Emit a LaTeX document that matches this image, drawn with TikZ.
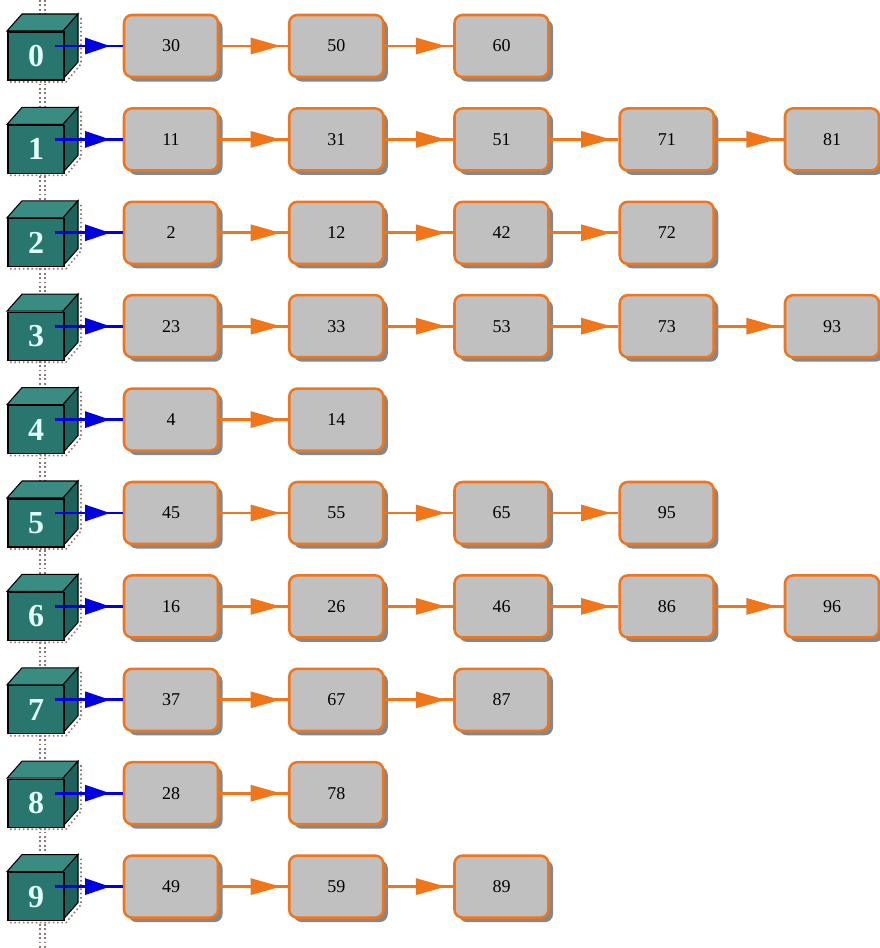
\documentclass[tikz,border=0pt]{standalone}
\usepackage{fontspec}
\setmainfont{Liberation Serif}
\usetikzlibrary{arrows.meta,decorations.markings,shadows}

\definecolor{tealfront}{RGB}{40,118,110}
\definecolor{tealtop}{RGB}{58,140,130}
\definecolor{tealside}{RGB}{30,98,92}
\definecolor{digitcyan}{RGB}{225,255,250}
\definecolor{linkorange}{RGB}{240,118,28}
\definecolor{cellgray}{RGB}{192,192,192}
\definecolor{cellshadow}{RGB}{135,135,135}
\definecolor{ptrblue}{RGB}{0,0,225}
\definecolor{spine}{RGB}{140,120,120}
\definecolor{cubeshade}{RGB}{175,110,110}

\begin{document}
\begin{tikzpicture}[x=0.75pt,y=-0.75pt,
  cell/.style={draw=linkorange, line width=1.9pt, fill=cellgray,
    rounded corners=6pt, minimum width=94*0.75pt, minimum height=62*0.75pt,
    inner sep=0pt, font=\fontsize{13.5}{15}\selectfont,
    drop shadow={shadow xshift=3.4pt, shadow yshift=-3.4pt, fill=cellshadow, opacity=1}},
  front/.style={draw=black, line width=0.8pt, fill=tealfront,
    minimum width=56*0.75pt, minimum height=48*0.75pt, inner sep=0pt,
    text=digitcyan, font=\fontsize{24}{24}\selectfont\bfseries},
  topface/.style={draw=black, line width=0.8pt, fill=tealtop},
  sideface/.style={draw=black, line width=0.8pt, fill=tealside},
  cubeshadow/.style={cubeshade, dotted, line width=1.2pt},
  link/.style={linkorange, line width=2.2pt, postaction={decorate},
    decoration={markings, mark=at position -5.5pt with
      {\arrow{Triangle[length=30*0.75pt, width=16*0.75pt]}}}},
  ptr/.style={ptrblue, line width=2.2pt, postaction={decorate},
    decoration={markings, mark=at position -9.5pt with
      {\arrow{Triangle[length=25*0.75pt, width=16*0.75pt]}}}},
  spineline/.style={spine, dotted, line width=1.3pt}
]
\fill[white] (0,0) rectangle (879,948);
\useasboundingbox (0,0) rectangle (879,948);

% dotted spine of the bucket array
\draw[spineline] (40,0) -- (40,948);
\draw[spineline] (45,0) -- (45,948);

\foreach \r/\list in {0/{30,50,60},1/{11,31,51,71,81},2/{2,12,42,72},
    3/{23,33,53,73,93},4/{4,14},5/{45,55,65,95},6/{16,26,46,86,96},
    7/{37,67,87},8/{28,78},9/{49,59,89}} {
  \pgfmathsetmacro\yc{46+93.4*\r}
  % bucket cube
  \draw[cubeshadow] (81,\yc-28) -- (81,\yc+18) -- (66,\yc+36) -- (9,\yc+36);
  \draw[topface] (7,\yc-15) -- (22,\yc-32) -- (78,\yc-32) -- (63,\yc-15) -- cycle;
  \draw[sideface] (63,\yc-15) -- (78,\yc-32) -- (78,\yc+16) -- (63,\yc+33) -- cycle;
  \node[front] (f\r) at (36,\yc+10) {\r};
  \coordinate (s\r) at (55,\yc);
  % chain of entries
  \foreach \v [count=\k from 0, remember=\k as \p (initially 0)] in \list {
    \node[cell] (b\r-\k) at (171+165.25*\k,\yc) {\v};
    \ifnum\k>0 \draw[link] (b\r-\p) -- (b\r-\k); \fi
  }
  \draw[ptr] (s\r) -- (b\r-0);
}
\end{tikzpicture}
\end{document}
